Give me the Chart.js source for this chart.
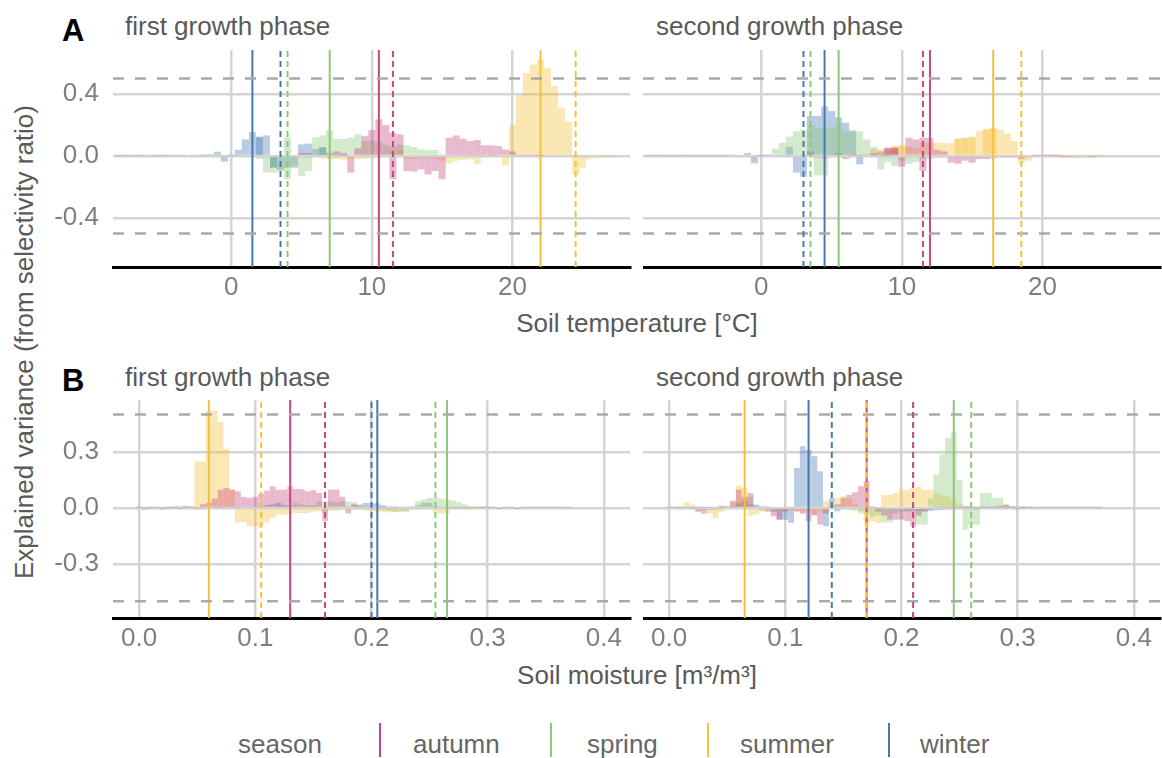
<!DOCTYPE html>
<html>
<head>
<meta charset="utf-8">
<title>Explained variance by season</title>
<script src="https://cdn.jsdelivr.net/npm/chart.js@4.4.1/dist/chart.umd.min.js"></script>
<style>
  html, body { margin: 0; padding: 0; background: #fff; }
  #fig { position: relative; width: 1162px; height: 758px; overflow: hidden; font-family: "Liberation Sans", Arial, sans-serif; }
  .panel { position: absolute; }
  .tag { position: absolute; font-size: 31px; line-height: 31px; font-weight: bold; color: #000; }
  .strip { position: absolute; font-size: 26px; line-height: 26px; color: #595959; white-space: nowrap; }
  .xtitle { position: absolute; left: 137px; width: 1000px; text-align: center; font-size: 26px; line-height: 26px; color: #595959; }
  .ytitle { position: absolute; left: -276px; top: 329px; width: 600px; text-align: center; font-size: 26px; line-height: 26px; color: #595959; transform: rotate(-90deg); white-space: nowrap; }
  .leg { position: absolute; top: 731px; font-size: 26px; line-height: 26px; color: #666; white-space: nowrap; }
  .legline { position: absolute; top: 723px; width: 2px; height: 34px; }
</style>
</head>
<body>
<div id="fig">
  <div class="tag" style="left:62px;top:15px">A</div>
  <div class="strip" style="left:125px;top:13px">first growth phase</div>
  <div class="strip" style="left:656px;top:13px">second growth phase</div>
  <div class="panel" style="left:40px;top:40px"><canvas id="a1" width="592" height="267"></canvas></div>
  <div class="panel" style="left:643px;top:40px"><canvas id="a2" width="519" height="267"></canvas></div>
  <div class="xtitle" style="top:310px">Soil temperature [°C]</div>

  <div class="tag" style="left:62px;top:365px">B</div>
  <div class="strip" style="left:125px;top:364px">first growth phase</div>
  <div class="strip" style="left:656px;top:364px">second growth phase</div>
  <div class="panel" style="left:40px;top:390px"><canvas id="b1" width="592" height="268"></canvas></div>
  <div class="panel" style="left:643px;top:390px"><canvas id="b2" width="519" height="268"></canvas></div>
  <div class="xtitle" style="top:662px">Soil moisture [m³/m³]</div>

  <div class="ytitle">Explained variance (from selectivity ratio)</div>

  <div class="leg" style="left:238px">season</div>
  <div class="legline" id="lg-autumn" style="left:379px"></div>
  <div class="leg" style="left:413px">autumn</div>
  <div class="legline" id="lg-spring" style="left:550px"></div>
  <div class="leg" style="left:587px">spring</div>
  <div class="legline" id="lg-summer" style="left:707px"></div>
  <div class="leg" style="left:740px">summer</div>
  <div class="legline" id="lg-winter" style="left:888px"></div>
  <div class="leg" style="left:920px">winter</div>
</div>

<script>
// ===== DADOS =====
const seasons = ['autumn', 'spring', 'summer', 'winter'];

// tick labels
const tempTicks = [0, 10, 20];
const moistTicks = [0, 0.1, 0.2, 0.3, 0.4];
const varTicksA = [-0.4, 0, 0.4];
const varTicksB = [-0.3, 0, 0.3];
const refLevels = [-0.5, 0.5];

// bin widths
const tempStep = 0.5;
const moistStep = 0.005;

// A - soil temperature, first growth phase (from = first bin centre)
const a1Autumn = { from: 5, y: [0.02, 0.02, 0.01, 0.01, 0.02, 0.03, 0.02, -0.107, 0.05, 0.13, 0.168, 0.237, 0.2, 0.15, 0.14, -0.097, -0.1, -0.086, -0.118, -0.097, -0.15, 0.118, 0.133, 0.112, 0.097, 0.103, 0.069, 0.069, 0.065, 0.043, 0.03, 0.01, 0.005, 0.004, 0.003] };
const a1Autumn2 = { from: 11.5, y: [-0.15] };
const a1Spring = { from: -2, y: [0.003, 0.004, 0.005, -0.005, 0.004, 0.005, 0.004, -0.01, -0.02, -0.107, -0.107, -0.1, 0.12, -0.06, -0.13, -0.097, 0.12, 0.133, 0.165, 0.11, 0.11, 0.118, 0.14, 0.097, 0.1, 0.09, 0.07, 0.06, 0.075, 0.069, 0.058, 0.043, 0.04, 0.04, 0.012, 0.008, 0.006, 0.005, 0.005, 0.004, 0.004, 0.003] };
const a1Spring2 = { from: 4, y: [-0.15] };
const a1Summer = { from: 5.5, y: [-0.01, -0.01, -0.015, -0.02, -0.02, -0.025, -0.02, -0.02, -0.02, -0.015, -0.01, -0.01, 0.03, 0.04, -0.02, -0.02, -0.015, -0.015, -0.02, -0.03, -0.047, -0.03, -0.025, -0.02, -0.05, -0.01, 0.005, 0.01, -0.06, 0.2, 0.39, 0.535, 0.59, 0.62, 0.57, 0.45, 0.31, 0.22, -0.118, -0.075, -0.02, -0.01, -0.005, -0.003] };
const a1Winter = { from: -8, y: [0.003, 0.004, 0.005, 0.003, 0.006, 0.004, 0.005, 0.004, 0.006, 0.005, 0.008, 0.006, 0.01, 0.012, 0.028, -0.036, 0.005, 0.04, 0.107, 0.155, 0.125, 0.133, -0.075, -0.09, -0.075, -0.075, 0.075, 0.08, 0.045, 0.058, 0.01, 0.005, 0.003] };
const a1Winter2 = { from: 2, y: [0.12, 0, -0.075, 0, 0, 0, 0, 0, 0, 0.055] };

// A - soil temperature, second growth phase
const a2Autumn = { from: 3, y: [0.01, 0.03, -0.01, -0.015, 0.01, 0.02, -0.02, 0.005, 0.005, 0.01, 0.02, 0.03, 0.054, 0.054, -0.069, 0.118, 0.107, 0.118, 0.118, 0.04, 0.03, -0.043, -0.05, -0.03, -0.043, -0.02, -0.02, -0.015, -0.01, -0.005, -0.005, -0.02, -0.01, 0.005, 0.003, 0.003, 0.002, -0.003, -0.004, -0.006, -0.01, -0.003] };
const a2Autumn2 = { from: 9, y: [0.05, 0.05, 0, 0, 0, -0.097] };
const a2Spring = { from: 0, y: [0.005, 0.01, 0.047, 0.086, 0.125, 0.16, 0.17, 0.2, 0.18, 0.19, 0.18, 0.21, 0.16, 0.17, 0.16, 0.107, 0.06, -0.086, -0.04, -0.065, -0.03, -0.05, -0.04, -0.02, -0.02, -0.01, -0.01, -0.008, -0.005, -0.005, -0.004, -0.003] };
const a2Spring2 = { from: 4, y: [-0.125, -0.125] };
const a2Summer = { from: 7, y: [0.005, 0.01, 0.047, 0.045, 0.04, 0.065, 0.069, 0.06, 0.05, 0.086, 0.086, 0.086, 0.084, 0.082, 0.112, 0.118, 0.125, 0.16, 0.176, 0.183, 0.172, 0.146, 0.097, -0.047, -0.03, 0.005, 0.004, 0.003, 0.003, 0.002, 0.003, 0.004, 0.003, 0.003, 0.002] };
const a2Summer2 = { from: 9.5, y: [0.06, 0.065, 0, 0, 0, 0, 0, 0, 0, 0.11, 0.115, 0.12, 0, 0.17, 0.18] };
const a2Winter = { from: -8, y: [0.003, 0.004, 0.003, 0.005, 0.004, 0.003, 0.004, 0.005, 0.004, 0.005, 0.004, 0.005, 0.006, 0.008, 0.02, -0.047, 0.003, 0.005, 0.008, 0.01, 0.06, -0.107, -0.133, 0.258, 0.258, 0.32, 0.29, 0.25, 0.215, 0.16, -0.054, 0.01, 0.005, 0.004, 0.003] };

// B - soil moisture, first growth phase
const b1Autumn = { from: 0.03, y: [0.005, 0.01, 0.012, 0.005, 0.005, 0.02, 0.027, 0.05, 0.098, 0.107, 0.098, 0.089, 0.059, 0.054, 0.06, 0.075, 0.093, 0.116, 0.098, 0.098, 0.116, 0.102, 0.1, 0.089, 0.095, 0.08, -0.07, 0.098, 0.098, 0.06, -0.03, 0.02, 0.01, 0.005, -0.005, 0.004, 0.003, -0.004, 0.003] };
const b1Spring = { from: 0.105, y: [0.005, 0.01, 0.008, 0.015, 0.01, 0.015, 0.027, 0.02, 0.015, 0.015, 0.035, 0.035, 0.035, 0.03, 0.035, 0.035, 0.03, 0.02, 0.01, 0.01, -0.005, -0.01, -0.015, -0.02, -0.02, -0.02, 0.01, 0.035, 0.045, 0.054, 0.054, 0.05, 0.045, 0.04, 0.03, 0.02, 0.01, 0.005, 0.003, 0.002] };
const b1Summer = { from: 0, y: [0.002, 0.002, 0.003, 0.002, 0.004, 0.003, 0.005, 0.004, 0.006, 0.01, 0.25, 0.25, 0.52, 0.52, 0.46, 0.316, 0.1, -0.077, -0.077, -0.098, -0.098, -0.098, -0.077, -0.054, -0.036, -0.036, -0.03, -0.027, -0.027, -0.027, -0.02, -0.02, -0.02, -0.015, -0.015, -0.01, -0.01, -0.01, -0.01, -0.012, -0.015, -0.02, -0.023, -0.023, -0.023, -0.02, -0.015, -0.01, -0.01, 0.01, 0.01, -0.025, -0.03, -0.03, -0.01, -0.005, -0.003, -0.002, 0.002] };
const b1Winter = { from: 0, y: [0.002, -0.002, 0.002, 0.003, -0.002, 0.002, 0.003, -0.003, 0.002, 0.003, -0.004, 0.003, 0.005, 0.004, 0.003, 0.005, 0.004, 0.003, 0.005, 0.008, 0.01, 0.01, 0.015, 0.02, 0.027, 0.015, 0.01, 0.01, 0.005, 0.01, 0.01, 0.008, 0.006, 0.005, 0.005, 0.008, 0.01, 0.012, 0.015, 0.027, 0.027, 0.025, 0.015, 0.01, 0.005, 0.005, 0.005, 0.008, 0.015, 0.027, 0.027, 0.01, 0.005, 0.004, 0.003, 0.003, 0.002, 0.003, 0.002, 0.002, 0.002, 0.002, -0.002, 0.002, 0.002, -0.002, 0.002, 0.002, 0.002, 0.002, 0.002, 0.002, 0.002, 0.002, 0.002] };

// B - soil moisture, second growth phase
const b2Autumn = { from: 0.02, y: [-0.005, -0.02, -0.03, -0.01, -0.005, 0.003, 0.01, 0.04, 0.098, 0.06, 0.08, 0.01, -0.01, -0.02, -0.045, -0.0625, -0.02, -0.01, -0.02, -0.03, -0.07, -0.04, -0.089, -0.03, 0.01, 0.02, 0.054, 0.07, 0.084, 0.116, 0.143, 0.005, -0.02, -0.04, -0.0625, -0.0625, -0.0625, -0.07, -0.098, -0.04, -0.02, -0.01, 0.005, 0.004, 0.003, 0.004, 0.005, 0.004, 0.005, 0.004, 0.005, 0.006, 0.008, 0.012, 0.018, 0.01, 0.005, 0.003] };
const b2Spring = { from: 0.055, y: [0.005, 0.02, 0.04, 0.06, 0.01, 0.005, 0.003, -0.005, -0.005, 0.003, 0.003, 0.004, 0.005, 0.004, 0.003, 0.005, 0.004, 0.003, 0.003, -0.005, -0.01, -0.015, -0.02, -0.03, -0.05, -0.04, -0.077, -0.077, -0.03, -0.02, -0.02, -0.02, -0.089, -0.089, 0.05, 0.179, 0.286, 0.375, 0.41, 0.152, -0.116, -0.089, -0.089, 0.08, 0.08, 0.054, 0.054, 0.018, 0.01, 0.005, 0.003, 0.003] };
const b2Summer = { from: 0, y: [0.005, 0.005, 0.01, 0.03, 0.018, -0.018, -0.01, -0.03, -0.054, -0.02, 0.01, 0.03, 0.12, 0.107, -0.04, -0.035, -0.02, -0.015, -0.01, -0.005, -0.01, -0.01, -0.015, -0.018, -0.02, -0.036, -0.02, 0.036, 0.02, 0.054, 0.063, 0.05, 0.02, -0.03, -0.089, -0.07, -0.08, 0.071, 0.071, 0.08, 0.098, 0.098, 0.107, 0.112, 0.098, 0.098, 0.08, 0.07, 0.06, 0.04, 0.02, 0.015, 0.01, 0.01, 0.008, 0.006, 0.005, 0.004, 0.003, 0.002, 0.002] };
const b2Winter = { from: 0, y: [0.002, 0.003, 0.002, 0.003, 0.002, 0.003, 0.002, 0.004, 0.005, 0.012, 0.005, 0.01, 0.03, 0.04, 0.02, 0.018, 0.01, 0.005, -0.02, -0.0625, -0.0625, -0.08, 0.214, 0.33, 0.31, 0.277, 0.196, -0.098, 0.054, -0.018, 0.01, 0.008, 0.005, 0.004, 0.003, 0.004, -0.003, -0.005, -0.008, -0.01, -0.01, -0.012, -0.012, -0.015, -0.015, -0.015, -0.012, -0.01, -0.008, -0.005, 0.003, 0.002, 0.002, -0.002, 0.002, 0.002, 0.002, 0.002, 0.002, 0.002, -0.002, 0.002, 0.002, 0.002, 0.002, 0.002, 0.002, 0.002, 0.002, 0.002, 0.002, 0.002, 0.002, 0.002, 0.002] };

// season reference lines: [solid, dashed]
const a1Lines = { autumn: [10.5, 11.5], spring: [7.0, 4.0], summer: [22.0, 24.5], winter: [1.5, 3.5] };
const a2Lines = { autumn: [12.0, 11.5], spring: [5.5, 3.5], summer: [16.5, 18.5], winter: [4.5, 3.0] };
const b1Lines = { autumn: [0.13, 0.16], spring: [0.265, 0.255], summer: [0.06, 0.105], winter: [0.205, 0.2] };
const b2Lines = { autumn: [0.17, 0.21], spring: [0.245, 0.26], summer: [0.065, 0.17], winter: [0.12, 0.14] };

// ===== ESTILO =====
const seasonRgb = { autumn: '196,72,127', spring: '140,200,120', summer: '245,193,58', winter: '70,122,175' };
const gridColor = '#d4d4d4';
const tickColor = '#7f7f7f';
const fontFamily = '"Liberation Sans", Arial, sans-serif';

seasons.forEach(s => {
    document.getElementById('lg-' + s).style.background = 'rgb(' + seasonRgb[s] + ')';
});

function binData(series, step) {
    return series.y.map((v, i) => ({ x: +(series.from + i * step).toFixed(4), y: v }));
}

function buildPanel(id, p) {
    const datasets = [];

    // linhas verticais (sólidas e tracejadas)
    seasons.forEach(s => {
        datasets.push({
            type: 'line', order: 2,
            data: [{ x: p.lines[s][0], y: p.yMin }, { x: p.lines[s][0], y: p.yMax }],
            borderColor: 'rgb(' + seasonRgb[s] + ')', borderWidth: 2,
            pointRadius: 0, fill: false
        });
    });
    seasons.forEach(s => {
        datasets.push({
            type: 'line', order: 1,
            data: [{ x: p.lines[s][1], y: p.yMin }, { x: p.lines[s][1], y: p.yMax }],
            borderColor: 'rgb(' + seasonRgb[s] + ')', borderWidth: 2, borderDash: [6, 4],
            pointRadius: 0, fill: false
        });
    });

    // linhas de referência ±0.5
    refLevels.forEach(level => {
        datasets.push({
            type: 'line', order: 1,
            data: [{ x: p.xMin, y: level }, { x: p.xMax, y: level }],
            borderColor: '#aaaaaa', borderWidth: 2.5, borderDash: [11, 11],
            pointRadius: 0, fill: false
        });
    });

    // barras
    seasons.forEach(s => {
        p.bars[s].forEach(series => {
            datasets.push({
                type: 'bar', order: 3,
                data: binData(series, p.step),
                backgroundColor: 'rgba(' + seasonRgb[s] + ',0.38)',
                borderWidth: 0, inflateAmount: 0,
                grouped: false, barPercentage: 1, categoryPercentage: 1
            });
        });
    });

    const tickFont = { family: fontFamily, size: 26 };

    new Chart(document.getElementById(id), {
        type: 'bar',
        data: { datasets },
        options: {
            responsive: false,
            animation: false,
            layout: { padding: { top: 10, right: 2, left: 0, bottom: 0 } },
            plugins: { legend: { display: false }, tooltip: { enabled: false } },
            scales: {
                x: {
                    type: 'linear', min: p.xMin, max: p.xMax, offset: false,
                    grid: { offset: false, color: gridColor, lineWidth: 2.5, drawTicks: false },
                    border: { display: true, color: '#000', width: 3 },
                    ticks: { padding: 5, color: tickColor, font: tickFont, maxRotation: 0, callback: p.xFmt },
                    afterBuildTicks: scale => { scale.ticks = p.xTicks.map(v => ({ value: v })); },
                    afterFit: scale => {
                        scale.height = 40;
                        scale.paddingLeft = 0; scale.paddingRight = 0;
                    }
                },
                y: {
                    type: 'linear', min: p.yMin, max: p.yMax,
                    grid: { color: gridColor, lineWidth: 2.5, drawTicks: false },
                    border: { display: false },
                    ticks: { display: p.showY, padding: 14, color: tickColor, font: tickFont, callback: v => v.toFixed(1) },
                    afterBuildTicks: scale => { scale.ticks = p.yTicks.map(v => ({ value: v })); },
                    afterFit: scale => {
                        scale.width = p.showY ? 73 : 0;
                        scale.paddingTop = 0; scale.paddingBottom = 0;
                    }
                }
            }
        }
    });
}

// ===== INICIALIZAÇÃO =====
const tempAxis = { step: tempStep, xMin: -8.42, xMax: 28.37, xTicks: tempTicks, xFmt: v => String(v), yMin: -0.716, yMax: 0.684, yTicks: varTicksA };
const moistAxis = { step: moistStep, xMin: -0.0225, xMax: 0.4225, xTicks: moistTicks, xFmt: v => v.toFixed(1), yMin: -0.589, yMax: 0.578, yTicks: varTicksB };

buildPanel('a1', Object.assign({}, tempAxis, { showY: true, lines: a1Lines,
    bars: { autumn: [a1Autumn, a1Autumn2], spring: [a1Spring, a1Spring2], summer: [a1Summer], winter: [a1Winter, a1Winter2] } }));
buildPanel('a2', Object.assign({}, tempAxis, { showY: false, lines: a2Lines,
    bars: { autumn: [a2Autumn, a2Autumn2], spring: [a2Spring, a2Spring2], summer: [a2Summer, a2Summer2], winter: [a2Winter] } }));
buildPanel('b1', Object.assign({}, moistAxis, { showY: true, lines: b1Lines,
    bars: { autumn: [b1Autumn], spring: [b1Spring], summer: [b1Summer], winter: [b1Winter] } }));
buildPanel('b2', Object.assign({}, moistAxis, { showY: false, lines: b2Lines,
    bars: { autumn: [b2Autumn], spring: [b2Spring], summer: [b2Summer], winter: [b2Winter] } }));
</script>
</body>
</html>
